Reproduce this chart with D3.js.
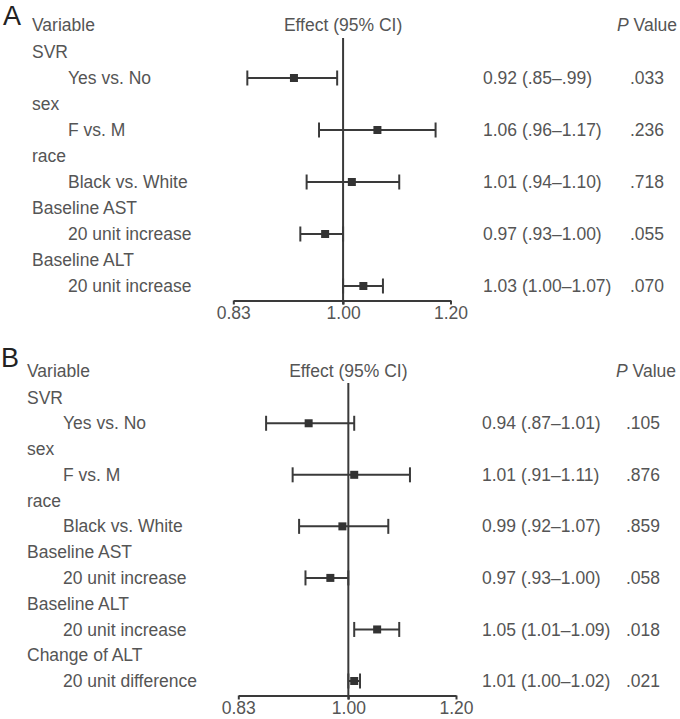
<!DOCTYPE html>
<html><head><meta charset="utf-8">
<script src="https://cdn.jsdelivr.net/npm/d3@7"></script>
<style>
html,body{margin:0;padding:0;background:#fff;}
svg{display:block;}
text{font-family:"Liberation Sans",Arial,sans-serif;}
</style></head>
<body>
<svg id="chart" width="680" height="719"></svg>
<script>
// ---- Data ----
const ticks = [0.83, 1.00, 1.20];
const tickLabels = ["0.83", "1.00", "1.20"];

// Panel A
const groupsA = ["SVR", "sex", "race", "Baseline AST", "Baseline ALT"];
const itemsA = ["Yes vs. No", "F vs. M", "Black vs. White", "20 unit increase", "20 unit increase"];
const estA = [0.92, 1.06, 1.015, 0.97, 1.035];
const lowA = [0.85, 0.96, 0.94, 0.93, 1.00];
const highA = [0.99, 1.17, 1.10, 1.00, 1.07];
const ciTextA = ["0.92 (.85–.99)", "1.06 (.96–1.17)", "1.01 (.94–1.10)", "0.97 (.93–1.00)", "1.03 (1.00–1.07)"];
const pA = [".033", ".236", ".718", ".055", ".070"];

// Panel B
const groupsB = ["SVR", "sex", "race", "Baseline AST", "Baseline ALT", "Change of ALT"];
const itemsB = ["Yes vs. No", "F vs. M", "Black vs. White", "20 unit increase", "20 unit increase", "20 unit difference"];
const estB = [0.935, 1.01, 0.99, 0.97, 1.05, 1.01];
const lowB = [0.87, 0.91, 0.92, 0.93, 1.01, 1.00];
const highB = [1.01, 1.11, 1.07, 1.00, 1.09, 1.02];
const ciTextB = ["0.94 (.87–1.01)", "1.01 (.91–1.11)", "0.99 (.92–1.07)", "0.97 (.93–1.00)", "1.05 (1.01–1.09)", "1.01 (1.00–1.02)"];
const pB = [".105", ".876", ".859", ".058", ".018", ".021"];

const svg = d3.select("#chart");
const TXT = "#555";
const DARK = "#3a3a3a";
const FS = 17.5;

function panel(cfg) {
  const g = svg.append("g");
  const n = cfg.groups.length;
  const rows = d3.range(n * 2);
  const y = d3.scalePoint().domain(rows).range([cfg.rowTop, cfg.rowBottom]);
  const x = d3.scaleLog().domain([0.83, 1.20]).range([cfg.axL, cfg.axR]);

  // panel letter
  g.append("text").attr("x", cfg.letterX).attr("y", cfg.letterY)
    .attr("font-size", 27).attr("fill", "#222").text(cfg.letter);

  // headers
  const hy = cfg.headerY;
  g.append("text").attr("x", cfg.groupX).attr("y", hy).attr("dy", "0.35em")
    .attr("font-size", FS).attr("fill", TXT).text("Variable");
  g.append("text").attr("x", x(1)).attr("y", hy).attr("dy", "0.35em")
    .attr("text-anchor", "middle").attr("font-size", FS).attr("fill", TXT).text("Effect (95% CI)");
  const pv = g.append("text").attr("x", cfg.pHeadX).attr("y", hy).attr("dy", "0.35em")
    .attr("font-size", FS).attr("fill", TXT);
  pv.append("tspan").attr("font-style", "italic").text("P");
  pv.append("tspan").text(" Value");

  // labels
  cfg.groups.forEach((gr, i) => {
    g.append("text").attr("x", cfg.groupX).attr("y", y(2 * i)).attr("dy", "0.35em")
      .attr("font-size", FS).attr("fill", TXT).text(gr);
    g.append("text").attr("x", cfg.itemX).attr("y", y(2 * i + 1)).attr("dy", "0.35em")
      .attr("font-size", FS).attr("fill", TXT).text(cfg.items[i]);
    g.append("text").attr("x", cfg.ciX).attr("y", y(2 * i + 1)).attr("dy", "0.35em")
      .attr("font-size", FS).attr("fill", TXT).text(cfg.ciText[i]);
    g.append("text").attr("x", cfg.pX).attr("y", y(2 * i + 1)).attr("dy", "0.35em")
      .attr("font-size", FS).attr("fill", TXT).text(cfg.p[i]);
  });

  // reference line
  g.append("line").attr("x1", x(1)).attr("x2", x(1))
    .attr("y1", cfg.refTop).attr("y2", cfg.axisY + 4)
    .attr("stroke", DARK).attr("stroke-width", 2);

  // axis
  const axis = d3.axisBottom(x).tickValues(ticks)
    .tickFormat((d, i) => tickLabels[i]).tickSize(4).tickSizeOuter(0);
  const ag = g.append("g").attr("transform", `translate(0,${cfg.axisY})`).call(axis);
  ag.attr("font-size", FS).attr("font-family", "Liberation Sans, Arial, sans-serif");
  ag.select(".domain").attr("stroke", DARK).attr("stroke-width", 2);
  ag.selectAll(".tick line").attr("stroke", DARK).attr("stroke-width", 2);
  ag.selectAll(".tick text").attr("font-size", FS).attr("fill", TXT)
    .attr("y", 6).attr("dy", "0.71em");

  // error bars
  cfg.est.forEach((e, i) => {
    const yy = y(2 * i + 1);
    const x0 = x(cfg.low[i]), x1 = x(cfg.high[i]);
    g.append("line").attr("x1", x0).attr("x2", x1).attr("y1", yy).attr("y2", yy)
      .attr("stroke", DARK).attr("stroke-width", 2);
    [x0, x1].forEach(xx => g.append("line").attr("x1", xx).attr("x2", xx)
      .attr("y1", yy - 7.5).attr("y2", yy + 7.5).attr("stroke", DARK).attr("stroke-width", 2));
    g.append("rect").attr("x", x(e) - 4).attr("y", yy - 4).attr("width", 8).attr("height", 8)
      .attr("fill", "#333");
  });
}

panel({
  letter: "A", letterX: 3, letterY: 25,
  groups: groupsA, items: itemsA, est: estA, low: lowA, high: highA, ciText: ciTextA, p: pA,
  rowTop: 52, rowBottom: 286, headerY: 25,
  axL: 233.3, axR: 450.5, axisY: 300.5, refTop: 38,
  groupX: 32, itemX: 68, ciX: 483, pX: 630, pHeadX: 617
});

panel({
  letter: "B", letterX: 1, letterY: 367,
  groups: groupsB, items: itemsB, est: estB, low: lowB, high: highB, ciText: ciTextB, p: pB,
  rowTop: 397.5, rowBottom: 681, headerY: 371,
  axL: 238.3, axR: 456, axisY: 695.5, refTop: 383,
  groupX: 27, itemX: 63, ciX: 482, pX: 626, pHeadX: 616
});
</script>
</body></html>
